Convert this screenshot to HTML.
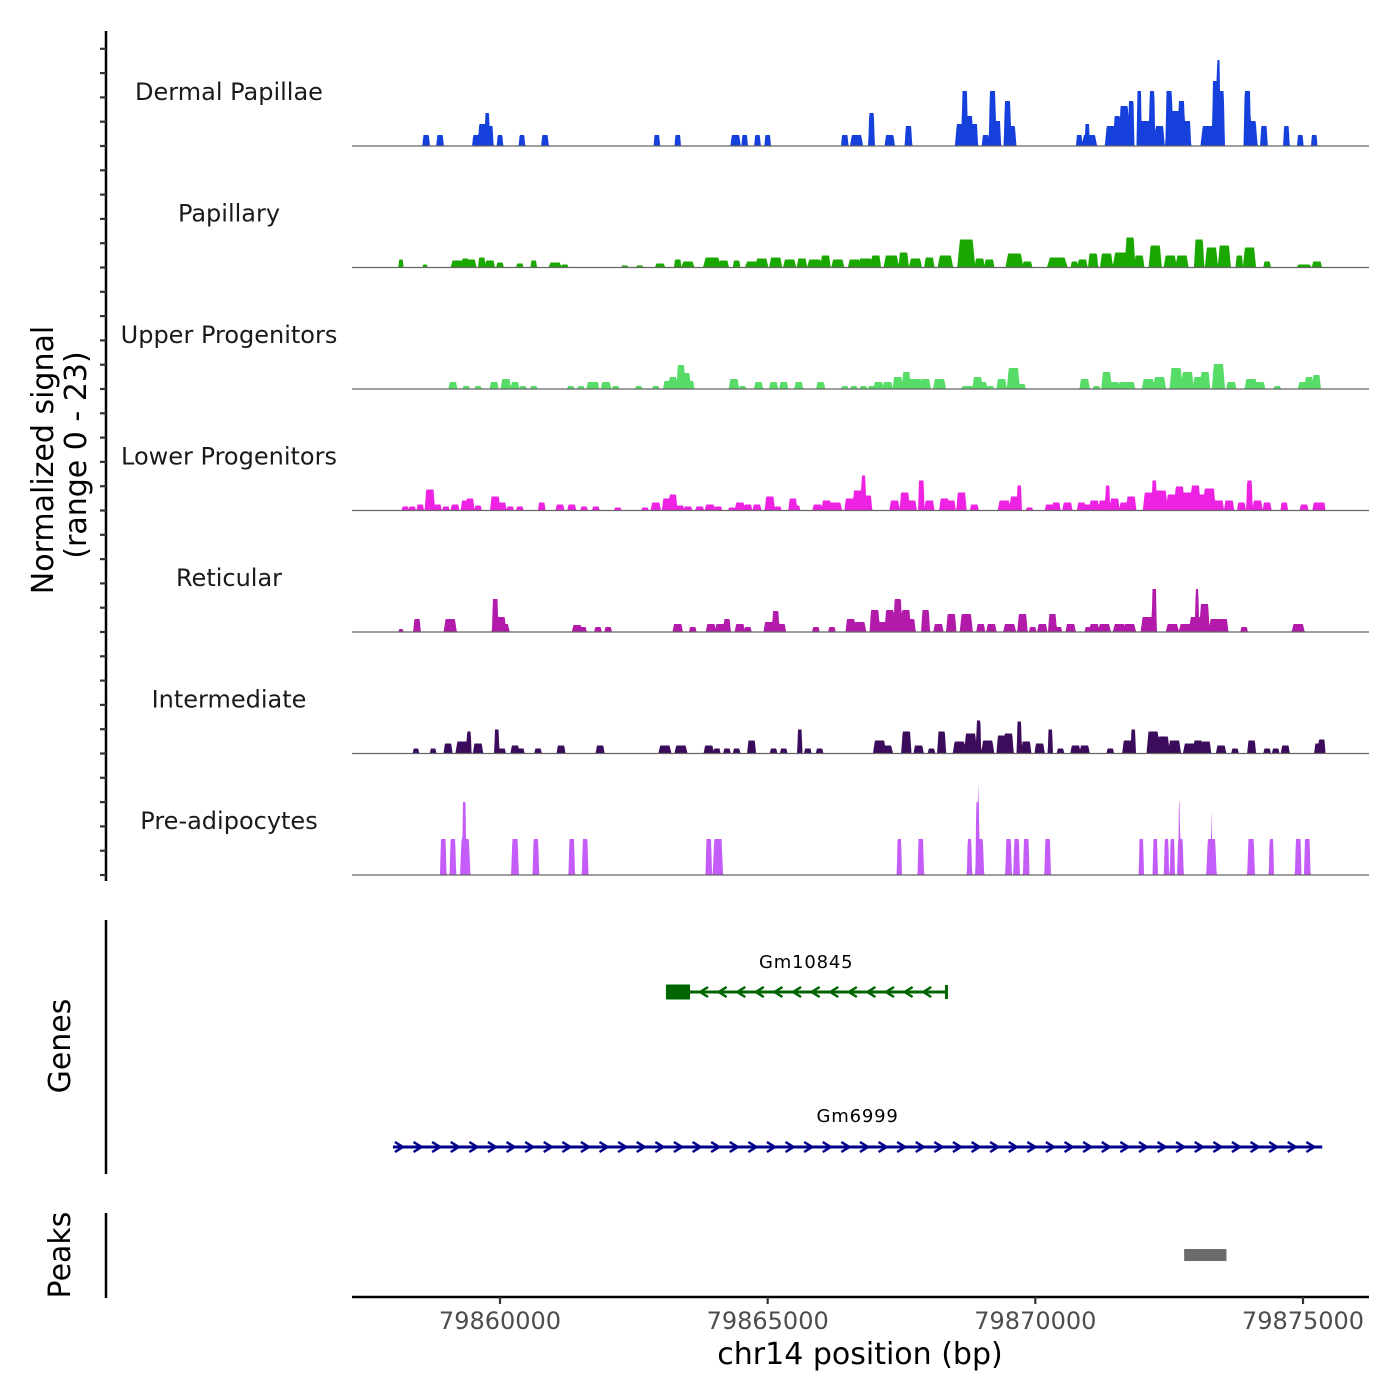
<!DOCTYPE html>
<html><head><meta charset="utf-8"><style>
html,body{margin:0;padding:0;background:#fff;}
svg{display:block;font-family:"DejaVu Sans","Liberation Sans",sans-serif;}
</style></head><body>
<svg id="chart" width="1400" height="1400" viewBox="0 0 1400 1400" xmlns="http://www.w3.org/2000/svg">
<rect x="0" y="0" width="1400" height="1400" fill="#fff"/>
<g id="tracks"></g>
<g id="labels"></g>
<g id="yaxis"></g>
<text transform="translate(53,460) rotate(-90)" text-anchor="middle" font-size="30" fill="#000">Normalized signal</text>
<text transform="translate(86,455) rotate(-90)" text-anchor="middle" font-size="30" fill="#000">(range 0 - 23)</text>
<line x1="106" y1="920" x2="106" y2="1174" stroke="#000" stroke-width="2.5"/>
<text transform="translate(70,1046) rotate(-90)" text-anchor="middle" font-size="30" fill="#000">Genes</text>
<line x1="106" y1="1213" x2="106" y2="1298" stroke="#000" stroke-width="2.5"/>
<text transform="translate(70,1255) rotate(-90)" text-anchor="middle" font-size="30" fill="#000">Peaks</text>
<g id="genes"></g>
<g id="peaks"></g>
<g id="xaxis"></g>
<text x="860" y="1364" text-anchor="middle" font-size="30" fill="#000">chr14 position (bp)</text>
</svg>
<script>
// ---- data (positions in kb on chr14, signal values in normalized units) ----
const trackNames = ["Dermal Papillae","Papillary","Upper Progenitors","Lower Progenitors","Reticular","Intermediate","Pre-adipocytes"];
const trackColors = ["#1640dc","#1aa800","#58dc68","#ee22e2","#b21aaa","#3b0c5c","#c45cf9"];
const xTicks = [79860000,79865000,79870000,79875000];
const xTickLabels = ["79860000","79865000","79870000","79875000"];

const dpPos = [58.62,58.88,59.55,59.68,59.76,59.81,60.00,60.41,60.84,62.93,63.32,64.40,64.57,64.81,65.00,66.44,66.66,66.94,67.28,67.63,68.62,68.68,68.77,68.86,69.07,69.20,69.29,69.48,69.55,70.82,70.97,71.01,71.42,71.53,71.66,71.79,71.94,72.04,72.18,72.32,72.50,72.61,72.73,72.84,73.23,73.36,73.42,73.47,73.96,74.03,74.27,74.69,74.95,75.21];
const dpVal = [2.2,2.2,2.2,4.4,6.6,4,2.2,2.2,2.2,2.2,2.2,2.2,2.2,2.2,2.2,2.2,2.2,6.6,2.2,4,4.4,11,6,4.4,2.2,11,5,9,4,2.2,4.4,2.2,4,6,8,9,11,5,11,4,11,7,9,5,4,13,17.2,11,11,5,4,4,2.2,2.2];
const dpWid = [110,110,110,150,75,110,95,95,110,95,95,150,95,95,95,110,190,95,150,110,190,95,110,110,110,110,110,110,150,95,75,225,190,110,150,95,75,190,95,150,110,150,110,110,225,95,56,110,110,190,110,95,95,95];

const papPos = [58.15,58.60,59.20,59.35,59.44,59.66,59.81,60.00,60.37,60.63,61.03,61.21,62.33,62.61,62.99,63.32,63.51,63.96,64.18,64.42,64.70,64.89,65.15,65.41,65.64,65.88,66.08,66.31,66.62,66.83,67.02,67.31,67.54,67.76,68.02,68.32,68.71,68.96,69.14,69.61,69.85,70.41,70.73,70.88,71.08,71.33,71.61,71.77,71.94,72.24,72.52,72.74,73.06,73.29,73.53,73.81,74.00,74.33,75.02,75.26];
const papVal = [1.6,0.6,1.4,1.8,1.6,2,1.4,1,0.8,1.4,1,0.6,0.4,0.4,0.8,1.6,1.2,2,1.4,1.4,1.2,1.8,2,1.6,1.8,1.6,2.4,1.6,1.6,1.8,2.4,2.4,3,1.8,2,2.4,5.6,1.8,1.6,2.8,1.2,2,1.2,1.6,2.8,2.8,3,6,2.4,4.4,2.4,2.4,5.6,4,4.4,2.4,4,1.2,0.6,1.2];
const papWid = [75,75,190,110,190,110,150,110,110,95,190,110,110,110,150,110,190,260,150,110,190,190,190,190,150,225,150,190,190,225,150,225,150,190,150,225,260,150,150,260,150,300,110,150,150,190,260,150,150,190,190,190,150,190,190,110,190,110,225,150];

const upPos = [59.12,59.37,59.59,59.89,60.11,60.28,60.43,60.63,61.32,61.51,61.70,61.77,61.98,62.16,62.59,62.91,63.13,63.23,63.38,63.47,63.55,64.37,64.53,64.83,65.11,65.30,65.58,65.99,66.44,66.61,66.79,66.94,67.07,67.24,67.43,67.59,67.67,67.80,67.95,68.21,68.73,68.92,69.01,69.16,69.37,69.59,69.74,70.92,71.14,71.33,71.48,71.64,71.77,72.11,72.32,72.63,72.84,73.04,73.17,73.42,73.66,74.03,74.20,74.52,75.00,75.11,75.25];
const upVal = [1.4,0.6,0.6,1.4,2,1.4,0.6,0.6,0.6,0.6,1.4,1.4,1.4,0.6,0.6,0.6,1.6,2.4,4.8,3.2,1.6,2,0.6,1.4,1.4,1.4,1.4,1.4,0.6,0.6,0.6,0.6,1.4,1.4,2.4,3.4,2,2,2,2,0.6,2.4,1.4,0.6,2,4.2,1,2,0.6,3.4,1.4,1.4,1.4,2,2.4,4.2,3.4,2.4,3.4,5,1.4,2,1.4,0.6,1.4,2.4,2.8];
const upWid = [130,110,110,130,150,130,110,110,110,110,130,130,150,110,110,110,130,130,130,150,130,150,110,130,130,130,130,130,110,110,110,110,150,150,150,130,150,150,150,190,190,150,150,110,150,190,130,150,110,150,150,150,150,190,190,190,190,150,150,190,150,190,150,110,150,130,130];

const lpPos = [58.23,58.36,58.51,58.69,58.84,58.99,59.16,59.35,59.44,59.59,59.91,60.04,60.19,60.37,60.78,61.12,61.34,61.57,61.79,62.20,62.71,62.91,63.12,63.23,63.36,63.51,63.73,63.92,64.07,64.33,64.48,64.63,64.80,65.04,65.19,65.47,65.54,65.93,66.10,66.27,66.53,66.68,66.79,66.87,67.37,67.56,67.69,67.87,68.02,68.30,68.43,68.62,68.86,69.42,69.61,69.70,69.89,70.26,70.39,70.60,70.86,70.97,71.10,71.29,71.35,71.48,71.66,71.79,72.13,72.22,72.35,72.54,72.69,72.84,72.99,73.12,73.25,73.43,73.62,73.85,74.00,74.15,74.33,74.65,75.02,75.26,75.35];
const lpVal = [0.8,0.8,1.2,4.2,1.2,0.8,1.2,2,2.4,1,2.8,1.6,0.8,0.8,1.6,1.2,1.2,0.8,0.8,0.6,0.6,1.6,2.4,3.2,1,0.8,0.8,1.2,0.8,0.6,1.6,1.2,1.2,2.8,0.8,2.4,1,1.2,2,1.6,2.4,4,7,3,2,3.6,2,6,2,2.4,2,3.6,1.2,2,2.8,5,0.6,1.2,1.6,1.6,1.6,1.2,2,2,5,2.4,1.6,2.8,3.6,6,4,3.2,4.8,3.6,5,3.2,4.4,2,2,1.6,6,2,1.6,1.6,1.2,1.6,1.6];
const lpWid = [110,110,110,150,110,110,130,130,130,110,150,130,110,110,110,130,130,110,110,110,110,150,150,130,130,130,130,150,130,110,150,130,130,150,110,130,110,150,150,190,150,150,75,130,150,150,150,95,150,150,130,150,130,190,150,75,110,130,130,150,130,110,150,190,75,150,150,150,190,75,190,150,150,190,150,150,190,150,150,130,95,150,130,110,130,130,110];

const retPos = [58.15,58.45,59.07,59.91,60.02,60.06,61.44,61.55,61.83,62.02,63.32,63.60,63.94,64.11,64.24,64.48,64.63,65.02,65.15,65.26,65.90,66.20,66.55,66.72,67.00,67.11,67.28,67.43,67.58,67.67,67.95,68.19,68.43,68.71,68.98,69.18,69.52,69.76,69.95,70.13,70.32,70.43,70.66,70.99,71.10,71.29,71.57,71.76,72.09,72.22,72.56,72.80,72.99,73.02,73.16,73.36,73.51,73.90,74.91];
const retVal = [0.6,2.6,2.6,6.6,3,1.6,1.4,1,1,1,1.6,1,1.6,1.6,2.6,1.6,1,2,4.2,1.6,1,1,2.6,2,4.4,2,4.4,6.6,4.4,2.6,4.4,1.6,3.6,3.6,1.6,1.6,1.6,3.6,1,1.6,3.6,1,1.6,1,1.6,1.6,1.6,1.6,3,8.6,1.6,1.6,3,8.6,5.6,2.6,2.6,1,1.6];
const retWid = [75,110,190,95,150,190,150,110,110,110,150,110,150,150,110,150,110,150,110,130,110,110,150,190,150,190,150,130,150,150,130,150,150,190,130,150,190,150,110,150,130,110,150,110,150,190,190,190,190,75,190,190,190,56,150,190,150,110,190];

const intPos = [58.43,58.75,59.03,59.29,59.42,59.59,59.94,60.04,60.28,60.39,60.71,61.14,61.87,63.08,63.38,63.90,64.05,64.24,64.42,64.70,65.11,65.30,65.60,65.75,65.97,67.09,67.22,67.59,67.82,68.06,68.25,68.58,68.79,68.94,69.11,69.37,69.50,69.70,69.83,70.08,70.28,70.47,70.75,70.92,71.40,71.72,71.83,72.20,72.39,72.60,72.88,73.04,73.19,73.47,73.73,74.04,74.33,74.49,74.67,75.28,75.35];
const intVal = [1,1,2,2.4,4.4,2,4.8,1,1.6,1,1,1.6,1.6,1.6,1.6,1.6,1,1,1,2.6,1,1,4.8,1,1,2.6,1.6,4.4,1.6,1,4.4,2.4,4,6.6,2.6,3.6,4,6.4,2.4,2,4.8,1,1.6,1.6,1,2.6,4.8,4.4,3.4,2.6,2,2.6,2.4,1.6,1,2.6,1,1,1.6,2,2.8];
const intWid = [95,95,130,190,75,150,75,110,130,110,110,130,130,190,190,150,110,110,110,130,110,110,75,110,110,190,190,150,150,110,130,190,190,75,190,150,150,75,150,150,75,110,150,150,110,150,75,190,190,190,190,150,150,150,110,130,110,110,130,110,110];

const preaPos = [58.94,59.12,59.35,59.33,60.28,60.67,61.34,61.59,63.90,64.07,67.46,67.86,68.77,68.96,68.92,68.94,69.50,69.65,69.83,70.23,71.98,72.24,72.45,72.56,72.71,72.69,73.29,73.29,74.03,74.41,74.91,75.08];
const preaVal = [7.2,7.2,7.2,14.6,7.2,7.2,7.2,7.2,7.2,7.2,7.2,7.2,7.2,7.2,14.6,22,7.2,7.2,7.2,7.2,7.2,7.2,7.2,7.2,7.2,14.6,7.2,14,7.2,7.2,7.2,7.2];
const preaWid = [95,95,150,56,110,95,95,95,95,150,75,95,75,130,56,20,95,95,95,95,75,75,75,75,95,37,150,20,110,75,95,95];

const genes = ["Gm10845","Gm6999"];
const geneStart = [79863100,79858000];
const geneEnd = [79868340,79875360];
const geneStrand = [-1,1];
const geneThickEnd = [79863550,null];
const peakStart = [79872780];
const peakEnd = [79873570];

// ---- scales ----
const X0 = 352, X1 = 1369;
const xs = bp => 500 + (bp - 79860000) * (803/15000);
const bpAt = px => 79860000 + (px - 500) * (15000/803);
const TRACK_H = 121.5, FIRST_BASE = 146, PX_PER_UNIT = 5;
const SHAPE_SPREAD = 1.3;
const NS = "http://www.w3.org/2000/svg";
function mk(tag, attrs, parent){const e=document.createElementNS(NS,tag);for(const k in attrs)e.setAttribute(k,attrs[k]);parent.appendChild(e);return e;}

const allPos=[dpPos,papPos,upPos,lpPos,retPos,intPos,preaPos];
const allVal=[dpVal,papVal,upVal,lpVal,retVal,intVal,preaVal];
const allWid=[dpWid,papWid,upWid,lpWid,retWid,intWid,preaWid];
const gT=document.getElementById("tracks"), gL=document.getElementById("labels");

for(let t=0;t<trackNames.length;t++){
  const base = FIRST_BASE + t*TRACK_H;
  const pos=allPos[t], val=allVal[t], wid=allWid[t];
  let d = "M"+X0+","+base;
  for(let px=X0; px<=X1; px+=0.5){
    const g = bpAt(px);
    let v = 0;
    for(let i=0;i<pos.length;i++){
      const c = pos[i]*1000 + 79800000;
      const w = wid[i] <= 40 ? wid[i] : wid[i]*SHAPE_SPREAD;
      const ramp = Math.max(w*0.15, 10);
      const f = Math.max(0, Math.min(1, (w/2 - Math.abs(g-c))/ramp));
      v = Math.max(v, val[i]*f);
    }
    d += " L"+px+","+(base - v*PX_PER_UNIT).toFixed(2);
  }
  d += " L"+X1+","+base+" Z";
  const p = mk("path",{d:d,fill:trackColors[t],stroke:"none"},gT);
  
  
  const bl = mk("line",{x1:X0,x2:X1,y1:base,y2:base,stroke:"#666","stroke-width":1.2},gT);
  
  
  const tx = mk("text",{x:229,y:base-46,"text-anchor":"middle","font-size":24,fill:"#1a1a1a"},gL);
  tx.textContent = trackNames[t];
  
  
}

// left y axis with ticks
const gY=document.getElementById("yaxis");
const yl = mk("line",{x1:106,x2:106,y1:31,y2:881,stroke:"#000","stroke-width":2.5},gY);


const lastBase = FIRST_BASE + 6*TRACK_H;
for(let k=0;k<35;k++){
  const y = lastBase - k*TRACK_H/5;
  const tk = mk("line",{x1:100,x2:106,y1:y,y2:y,stroke:"#333","stroke-width":2.2},gY);
  
  
}

// genes
const gG=document.getElementById("genes");
const geneY=[992,1147], geneColor=["#006400","#00008b"], labelY=[968,1122];
for(let i=0;i<genes.length;i++){
  const x1=xs(geneStart[i]), x2=xs(geneEnd[i]), y=geneY[i], col=geneColor[i];
  const ln = mk("line",{x1:x1,x2:x2,y1:y,y2:y,stroke:col,"stroke-width":3},gG);
  
  
  if(geneThickEnd[i]){
    const r = mk("rect",{x:x1,y:y-7.5,width:xs(geneThickEnd[i])-x1,height:15,fill:col},gG);
    
    
  }
  const s = geneStrand[i];
  const startA = geneThickEnd[i] ? xs(geneThickEnd[i])+14 : x1+6;
  for(let ax=startA; ax<x2-4; ax+=18.6){
    const dd = s>0 ? `M${ax-4},${y-5} L${ax+4},${y} L${ax-4},${y+5}` : `M${ax+4},${y-5} L${ax-4},${y} L${ax+4},${y+5}`;
    const a = mk("path",{d:dd,fill:"none",stroke:col,"stroke-width":2.5},gG);
    
    
  }
  if(s<0){
    const e = mk("line",{x1:x2,x2:x2,y1:y-7,y2:y+7,stroke:col,"stroke-width":3},gG);
    
    
  }
  const lab = mk("text",{x:(x1+x2)/2,y:labelY[i],"text-anchor":"middle","font-size":18,fill:"#000","letter-spacing":"0.8"},gG);
  lab.textContent = genes[i];
  
  
}

// peaks
const gP=document.getElementById("peaks");
for(let i=0;i<peakStart.length;i++){
  const r = mk("rect",{x:xs(peakStart[i]),y:1249,width:xs(peakEnd[i])-xs(peakStart[i]),height:12,fill:"#6b6b6b"},gP);
  
  
}

// x axis
const gX=document.getElementById("xaxis");
const xl = mk("line",{x1:X0,x2:X1,y1:1297,y2:1297,stroke:"#000","stroke-width":2.5},gX);


for(let i=0;i<xTicks.length;i++){
  const x=xs(xTicks[i]);
  const tk = mk("line",{x1:x,x2:x,y1:1297,y2:1304,stroke:"#333","stroke-width":2.2},gX);
  
  
  const tl = mk("text",{x:x,y:1329,"text-anchor":"middle","font-size":24,fill:"#4d4d4d"},gX);
  tl.textContent = xTickLabels[i];
  
  
}
</script>
</body></html>
